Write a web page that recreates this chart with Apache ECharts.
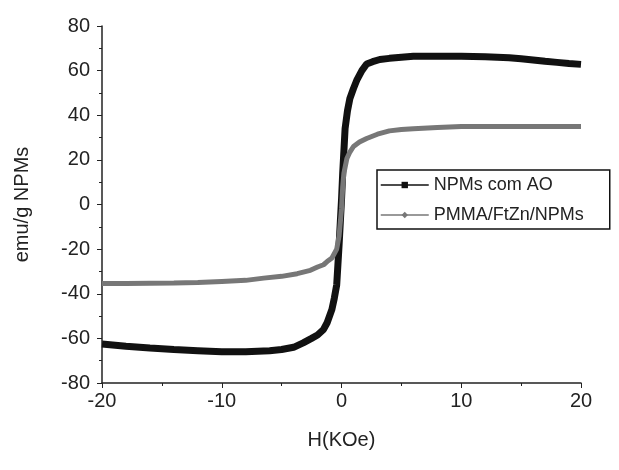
<!DOCTYPE html>
<html>
<head>
    <meta http-equiv="Content-type" content="text/html; charset=utf-8" />
    <title></title>
    <script src="https://cdn.jsdelivr.net/npm/echarts@6/dist/echarts.min.js"></script>
    <style>
    body { margin: 0; background: #fff; }
    </style>
</head>
<body>
    <div id="main" style="width: 619px;height:470px;"></div>
    <script type="text/javascript">
        // NPMs com AO (quadrados pretos)
        var hAO = [-20,-18,-16,-14,-12,-10,-8,-6,-5,-4,-3.2,-2.5,-2,-1.5,-1.2,-0.8,-0.6,-0.4,-0.3,-0.2,-0.1,0,0.1,0.2,0.3,0.5,0.7,1,1.3,1.7,2.1,2.6,3.2,4,5,6,8,10,12,14,15,16,17,18,19,20];
        var mAO = [-62.5,-63.5,-64.3,-65,-65.5,-66,-66,-65.5,-65,-64,-62,-60,-58.5,-56,-53,-47,-42,-36,-27,-18,-8,2,14,24,34,42,47.5,52,56,60,63,64,65,65.5,66,66.4,66.4,66.4,66.2,65.8,65.3,64.8,64.2,63.7,63.2,62.8];
        // PMMA/FtZn/NPMs (losangos cinza)
        var hPM = [-20,-18,-16,-14,-12,-10,-8,-6.5,-5,-3.7,-2.6,-2,-1.5,-1.2,-0.8,-0.4,-0.2,0,0.1,0.2,0.45,0.7,1,1.5,2.1,3,4,5,6,8,10,12,14,16,18,20];
        var mPM = [-35.4,-35.4,-35.3,-35.2,-35,-34.5,-34,-33,-32.2,-31,-29.5,-28,-27,-25.6,-24,-20,-14,-2,8,14,20.6,23.5,26,28,29.6,31.5,33,33.6,34,34.5,35,35,35,35,35,35];
        var names = ['NPMs com AO', 'PMMA/FtZn/NPMs'];

        function pares(xs, ys) {
            var out = [];
            for (var i = 0; i < xs.length; i++) out.push([xs[i], ys[i]]);
            return out;
        }

        var txt = { color: '#222', fontFamily: 'Liberation Sans', fontSize: 20 };
        var myChart = echarts.init(document.getElementById('main'));
        myChart.setOption({
            animation: false,
            grid: { left: 102, right: 38, top: 26, bottom: 87 },
            legend: {
                left: 377, top: 170,
                orient: 'vertical',
                data: names,
                borderColor: '#111', borderWidth: 1.5, borderRadius: 0,
                padding: [6, 26, 5, 3],
                itemGap: 12,
                itemWidth: 48, itemHeight: 8,
                lineStyle: { width: 1.5 },
                textStyle: { color: '#222', fontFamily: 'Liberation Sans', fontSize: 18 }
            },
            xAxis: {
                type: 'value', min: -20, max: 20, interval: 10,
                name: 'H(KOe)', nameLocation: 'middle', nameGap: 47,
                nameTextStyle: txt,
                axisLine: { onZero: false, lineStyle: { color: '#222', width: 1.5 } },
                axisTick: { inside: false, length: 5, lineStyle: { color: '#222' } },
                minorTick: { show: true, splitNumber: 2, length: 3, lineStyle: { color: '#222' } },
                axisLabel: txt,
                splitLine: { show: false }
            },
            yAxis: {
                type: 'value', min: -80, max: 80, interval: 20,
                name: 'emu/g NPMs', nameLocation: 'middle', nameGap: 70,
                nameTextStyle: txt,
                axisLine: { onZero: false, lineStyle: { color: '#222', width: 1.5 } },
                axisTick: { inside: false, length: 5, lineStyle: { color: '#222' } },
                minorTick: { show: true, splitNumber: 2, length: 3, lineStyle: { color: '#222' } },
                axisLabel: { color: '#222', fontFamily: 'Liberation Sans', fontSize: 20, margin: 12 },
                splitLine: { show: false }
            },
            series: [
                {
                    name: names[0], type: 'line', data: pares(hAO, mAO),
                    symbol: 'rect', symbolSize: 8, showSymbol: false,
                    itemStyle: { color: '#111' },
                    lineStyle: { color: '#111', width: 7 }
                },
                {
                    name: names[1], type: 'line', data: pares(hPM, mPM),
                    symbol: 'diamond', symbolSize: 9, showSymbol: false,
                    itemStyle: { color: '#777' },
                    lineStyle: { color: '#777', width: 5 }
                }
            ]
        });
    </script>
</body>
</html>
